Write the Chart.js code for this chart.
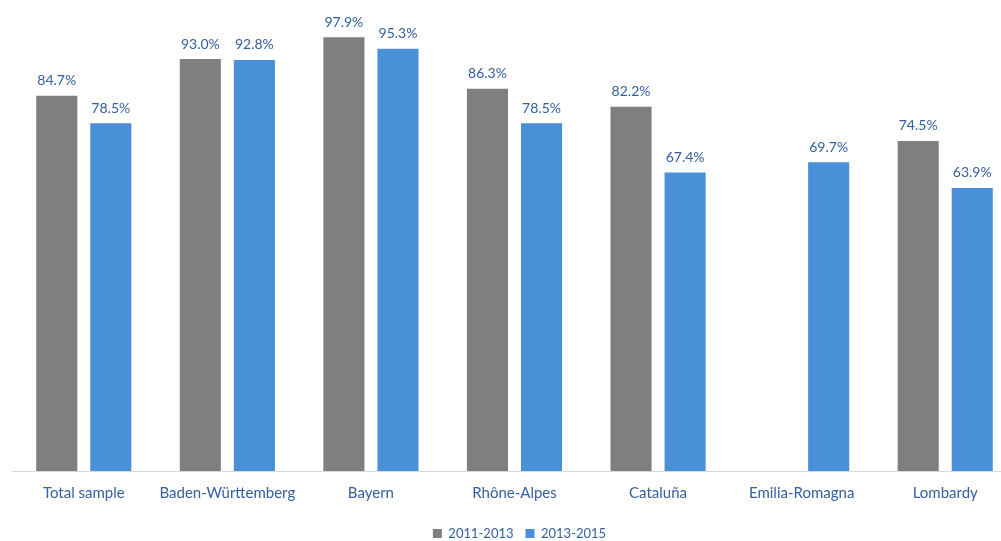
<!DOCTYPE html>
<html>
<head>
<meta charset="utf-8">
<script src="https://cdn.jsdelivr.net/npm/chart.js@4.4.1/dist/chart.umd.min.js"></script>
<style>
  html, body { margin: 0; padding: 0; background: #fff; overflow: hidden; }
  .wrap { position: absolute; left: 0; top: 0; width: 1017px; height: 554px; }
</style>
</head>
<body>
<div class="wrap"><canvas id="chart"></canvas></div>
<script>
const regions = ["Total sample", "Baden-Württemberg", "Bayern", "Rhône-Alpes", "Cataluña", "Emilia-Romagna", "Lombardy"]
const period1 = [84.7, 93.0, 97.9, 86.3, 82.2, null, 74.5]
const period2 = [78.5, 92.8, 95.3, 78.5, 67.4, 69.7, 63.9]
const seriesNames = ["2011-2013", "2013-2015"]

const textBlue = "#33609f"
const fontFamily = "Lato, 'Open Sans', sans-serif"

// writes the percentage above every bar
const valueLabels = {
  id: "valueLabels",
  afterDatasetsDraw(chart) {
    const ctx = chart.ctx
    ctx.save()
    ctx.fillStyle = textBlue
    ctx.font = "14px " + fontFamily
    ctx.textAlign = "center"
    ctx.textBaseline = "bottom"
    chart.data.datasets.forEach((ds, i) => {
      chart.getDatasetMeta(i).data.forEach((bar, j) => {
        const v = ds.data[j]
        if (v === null) return
        ctx.fillText(v.toFixed(1) + "%", bar.x, bar.y - 8)
      })
    })
    ctx.restore()
  }
}

// nudge the legend a little to the right
const legendShift = {
  id: "legendShift",
  afterLayout(chart) {
    if (!chart.legend) return
    chart.legend.left += 5
    chart.legend.right += 5
  }
}

new Chart(document.getElementById("chart"), {
  type: "bar",
  data: {
    labels: regions,
    datasets: [
      { label: seriesNames[0], data: period1, backgroundColor: "#7f7f7f" },
      { label: seriesNames[1], data: period2, backgroundColor: "#4a90d9" }
    ]
  },
  options: {
    responsive: true,
    maintainAspectRatio: false,
    animation: false,
    datasets: { bar: { categoryPercentage: 0.753, barPercentage: 0.76 } },
    layout: { padding: { left: 12, right: 0, top: 28, bottom: 4 } },
    scales: {
      x: {
        grid: { display: false },
        border: { display: true, color: "#d9d9d9", width: 1 },
        ticks: { color: textBlue, font: { family: fontFamily, size: 15 }, padding: 5, maxRotation: 0 },
        // extra room between the region names and the legend
        afterFit(scale) { scale.height += 8 }
      },
      y: {
        display: false,
        min: 0,
        max: 100
      }
    },
    plugins: {
      legend: {
        position: "bottom",
        labels: {
          color: textBlue,
          font: { family: fontFamily, size: 13 },
          boxWidth: 9,
          boxHeight: 9,
          padding: 12
        }
      },
      tooltip: { enabled: false }
    }
  },
  plugins: [valueLabels, legendShift]
})
</script>
</body>
</html>
